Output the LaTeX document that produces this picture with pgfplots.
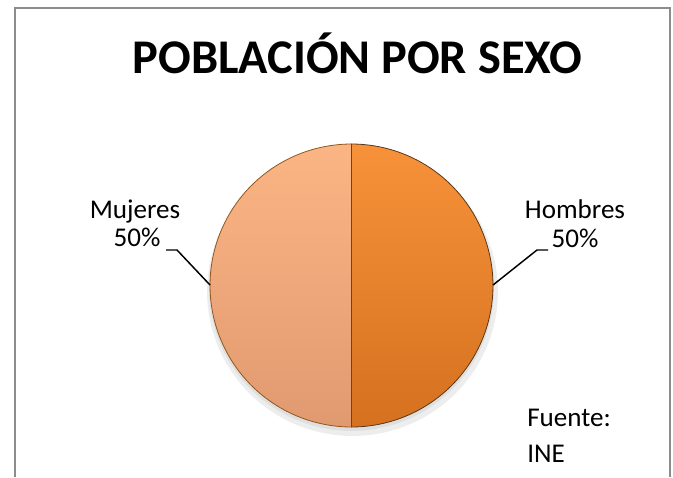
\documentclass[border=0pt]{standalone}
\usepackage{pgfplots}
\usepackage{pgfplotstable}
\pgfplotsset{compat=1.18}
\usepackage{fontspec}
\setmainfont{Carlito}
\definecolor{hombTop}{HTML}{F7923A}
\definecolor{hombBot}{HTML}{D5711F}
\definecolor{mujTop}{HTML}{FBB584}
\definecolor{mujBot}{HTML}{E19A70}
\definecolor{frame}{HTML}{8C8C8C}
\pgfplotstableread{
label value
Hombres 50
Mujeres 50
}\sexdata
\pgfplotstablegetelem{0}{value}\of\sexdata \let\vH\pgfplotsretval
\pgfplotstablegetelem{1}{value}\of\sexdata \let\vM\pgfplotsretval
\pgfmathsetmacro{\fH}{\vH/(\vH+\vM)}
\pgfmathsetmacro{\fM}{\vM/(\vH+\vM)}
\pgfmathsetmacro{\hStart}{90-360*\fH}
\pgfmathsetmacro{\mEnd}{90+360*\fM}
\def\cx{351.5}\def\cy{285.5}\def\rr{141.5}
\begin{document}
\begin{tikzpicture}
\begin{axis}[
  width=504.75pt, height=357.75pt, scale only axis,
  xmin=0, xmax=673, ymin=0, ymax=477, y dir=reverse,
  axis lines=none, clip=false, ticks=none,
]
\path (axis cs:0,0) rectangle (axis cs:673,477);
% frame
\addplot[frame, line width=1.4pt] coordinates {(15,477) (15,8) (670,8) (670,477)};
% shadow
\addplot[draw=none, fill=black, opacity=0.07, domain=0:360, samples=90]
  ({\cx+1+(\rr+4)*cos(x)},{\cy+6+(\rr+3)*sin(x)}) -- cycle;
\addplot[draw=none, fill=black, opacity=0.06, domain=0:360, samples=90]
  ({\cx+(\rr+1)*cos(x)},{\cy+3+(\rr+1)*sin(x)}) -- cycle;
% Hombres slice (right)
\addplot[draw=black!55!brown, line width=0.6pt, top color=hombTop, bottom color=hombBot, domain=\hStart:90, samples=80]
  ({\cx+\rr*cos(x)},{\cy-\rr*sin(x)}) -- (axis cs:\cx,\cy) -- cycle;
% Mujeres slice (left)
\addplot[draw=black!40!brown!80!orange, line width=0.6pt, top color=mujTop, bottom color=mujBot, domain=90:\mEnd, samples=80]
  ({\cx+\rr*cos(x)},{\cy-\rr*sin(x)}) -- (axis cs:\cx,\cy) -- cycle;
% divider
\addplot[black!70, line width=0.7pt] coordinates {(\cx,\cy-\rr) (\cx,\cy+\rr)};
% leader lines
\addplot[black, line width=1.1pt] coordinates {(166,250) (177,250) (210,285)};
\addplot[black, line width=1.1pt] coordinates {(548,250) (537,250) (493,285)};
% texts
\node[anchor=base, font=\bfseries\fontsize{36.3}{40}\selectfont] at (axis cs:357.5,73) {POBLACIÓN POR SEXO};
\node[anchor=base, font=\fontsize{20.3}{24}\selectfont] at (axis cs:135,218) {Mujeres};
\node[anchor=base, font=\fontsize{20.3}{24}\selectfont] at (axis cs:137,246) {50\%};
\node[anchor=base, font=\fontsize{20.3}{24}\selectfont] at (axis cs:575,218) {Hombres};
\node[anchor=base, font=\fontsize{20.3}{24}\selectfont] at (axis cs:575,247) {50\%};
\node[anchor=base west, inner sep=0pt, font=\fontsize{20.3}{24}\selectfont] at (axis cs:527,426) {Fuente:};
\node[anchor=base west, inner sep=0pt, font=\fontsize{20.3}{24}\selectfont] at (axis cs:527,462) {INE};
\end{axis}
\end{tikzpicture}
\end{document}
